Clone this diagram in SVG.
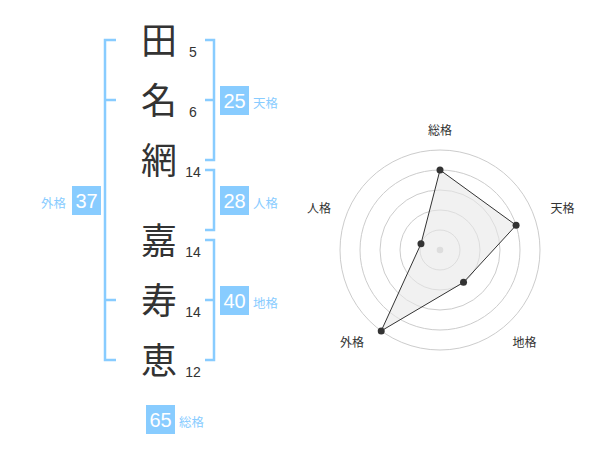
<svg xmlns="http://www.w3.org/2000/svg" width="600" height="470" viewBox="0 0 600 470">
<style>
.br{fill:none;stroke:#88ccff;stroke-width:2.5}
.ch{font-family:"Noto Sans CJK JP","Noto Sans CJK SC",sans-serif;font-size:36px;fill:#333;text-anchor:middle}
.st{font-family:"Liberation Sans",Arial,sans-serif;font-size:14px;fill:#333;text-anchor:middle}
.box{fill:#88ccff}
.bn{font-family:"Liberation Sans",Arial,sans-serif;font-size:20px;fill:#fff;text-anchor:middle}
.lb{font-family:"Noto Sans CJK JP","Noto Sans CJK SC",sans-serif;font-size:12.5px;fill:#88ccff}
.ring{fill:none;stroke:#ccc;stroke-width:1}
.rl{font-family:"Noto Sans CJK JP","Noto Sans CJK SC",sans-serif;font-size:12px;fill:#333;text-anchor:middle}
</style>
<g id="brackets">
<path class="br" d="M116,40 H105 V360 H116 M105,100 H116 M105,300 H116"/>
<path class="br" d="M205,40 H214 V160 H205 M214,100 H205"/>
<path class="br" d="M205,170 H214 V230 H205"/>
<path class="br" d="M205,240 H214 V360 H205 M214,300 H205"/>
</g>
<g id="chars">
<text class="ch" x="159" y="54">田</text>
<text class="ch" x="159" y="114">名</text>
<text class="ch" x="159" y="174">網</text>
<text class="ch" x="159" y="254">嘉</text>
<text class="ch" x="159" y="314">寿</text>
<text class="ch" x="159" y="374">恵</text>
<text class="st" x="193" y="57">5</text>
<text class="st" x="193" y="117">6</text>
<text class="st" x="193" y="177">14</text>
<text class="st" x="193" y="257">14</text>
<text class="st" x="193" y="317">14</text>
<text class="st" x="193" y="377">12</text>
</g>
<g id="tenkaku">
<rect class="box" x="220" y="86" width="29" height="29"/>
<text class="bn" x="234.5" y="108">25</text>
<text class="lb" x="253" y="108">天格</text>
</g>
<g id="jinkaku">
<rect class="box" x="220" y="186" width="29" height="29"/>
<text class="bn" x="234.5" y="208">28</text>
<text class="lb" x="253" y="208">人格</text>
</g>
<g id="chikaku">
<rect class="box" x="220" y="286" width="29" height="29"/>
<text class="bn" x="234.5" y="308">40</text>
<text class="lb" x="253" y="308">地格</text>
</g>
<g id="gaikaku">
<rect class="box" x="72" y="186" width="29" height="29"/>
<text class="bn" x="86.5" y="208">37</text>
<text class="lb" x="66" y="208" text-anchor="end">外格</text>
</g>
<g id="soukaku">
<rect class="box" x="146" y="405" width="29" height="29"/>
<text class="bn" x="160.5" y="427">65</text>
<text class="lb" x="179" y="427">総格</text>
</g>
<g id="radar">
<circle class="ring" cx="440" cy="250" r="20"/>
<circle class="ring" cx="440" cy="250" r="40"/>
<circle class="ring" cx="440" cy="250" r="60"/>
<circle class="ring" cx="440" cy="250" r="80"/>
<circle class="ring" cx="440" cy="250" r="100"/>
<circle cx="440" cy="250" r="3.3" fill="#ccc"/>
<polygon points="440,170 516.08,225.28 463.51,282.36 381.22,330.9 420.98,243.82" fill="#e8e8e8" fill-opacity="0.6" stroke="#333" stroke-width="1"/>
<g fill="#333">
<circle cx="440" cy="170" r="3.5"/>
<circle cx="516.08" cy="225.28" r="3.5"/>
<circle cx="463.51" cy="282.36" r="3.5"/>
<circle cx="381.22" cy="330.9" r="3.5"/>
<circle cx="420.98" cy="243.82" r="3.5"/>
</g>
<text class="rl" x="440" y="135">総格</text>
<text class="rl" x="562.5" y="213">天格</text>
<text class="rl" x="524.5" y="347">地格</text>
<text class="rl" x="352" y="347">外格</text>
<text class="rl" x="319" y="213">人格</text>
</g>
</svg>
